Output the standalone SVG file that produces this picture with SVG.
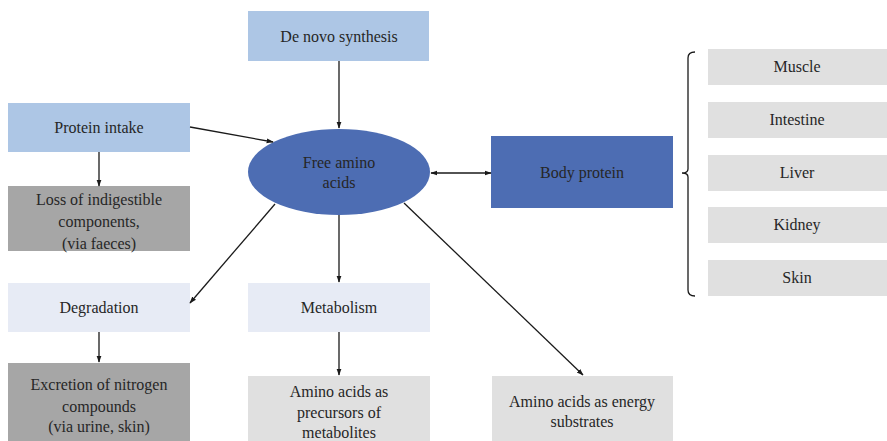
<svg xmlns="http://www.w3.org/2000/svg" width="887" height="441" viewBox="0 0 887 441">
  <style>
    text { font-family: 'Liberation Serif', 'DejaVu Serif', 'Times New Roman', Times, serif; font-size: 16px; fill: #262626; text-anchor: middle; }
    .lb { fill: #adc6e5; }
    .db { fill: #4d6db3; }
    .pale { fill: #e7ebf5; }
    .dg { fill: #a6a6a6; }
    .lg { fill: #e0e0e0; }
    .conn line, .conn path { stroke: #1a1a1a; stroke-width: 1.3; fill: none; }
  </style>
  <defs>
    <marker id="ah" viewBox="0 0 10 10" refX="9" refY="5" markerWidth="7" markerHeight="7" orient="auto-start-reverse" markerUnits="userSpaceOnUse">
      <path d="M0,1.5 L10,5 L0,8.5 z" fill="#1a1a1a"/>
    </marker>
  </defs>
  <rect width="887" height="441" fill="#ffffff"/>

  <g font-family="Liberation Serif, DejaVu Serif, serif">
  <g id="de-novo">
    <rect class="lb" x="248" y="11" width="181" height="50"/>
    <text x="339" y="42">De novo synthesis</text>
  </g>
  <g id="protein-intake">
    <rect class="lb" x="8" y="103" width="182" height="49"/>
    <text x="99" y="133">Protein intake</text>
  </g>
  <g id="loss">
    <rect class="dg" x="8" y="186" width="182" height="65"/>
    <text x="99" y="205">Loss of indigestible</text>
    <text x="99" y="227">components,</text>
    <text x="99" y="249">(via faeces)</text>
  </g>
  <g id="free-amino-acids">
    <ellipse class="db" cx="339" cy="172" rx="91" ry="43"/>
    <text x="339" y="168">Free amino</text>
    <text x="339" y="188">acids</text>
  </g>
  <g id="body-protein">
    <rect class="db" x="491" y="136" width="182" height="72"/>
    <text x="582" y="178">Body protein</text>
  </g>
  <g id="degradation">
    <rect class="pale" x="8" y="283" width="182" height="49"/>
    <text x="99" y="313">Degradation</text>
  </g>
  <g id="metabolism">
    <rect class="pale" x="248" y="283" width="182" height="49"/>
    <text x="339" y="313">Metabolism</text>
  </g>
  <g id="excretion">
    <rect class="dg" x="8" y="363" width="182" height="78"/>
    <text x="99" y="390">Excretion of nitrogen</text>
    <text x="99" y="412">compounds</text>
    <text x="99" y="432">(via urine, skin)</text>
  </g>
  <g id="precursors">
    <rect class="lg" x="248" y="376" width="182" height="65"/>
    <text x="339" y="397">Amino acids as</text>
    <text x="339" y="418">precursors of</text>
    <text x="339" y="438">metabolites</text>
  </g>
  <g id="energy">
    <rect class="lg" x="492" y="376" width="181" height="65"/>
    <text x="582" y="407">Amino acids as energy</text>
    <text x="582" y="427">substrates</text>
  </g>
  <g id="muscle">
    <rect class="lg" x="708" y="49" width="179" height="36"/>
    <text x="797" y="72">Muscle</text>
  </g>
  <g id="intestine">
    <rect class="lg" x="708" y="102" width="179" height="36"/>
    <text x="797" y="125">Intestine</text>
  </g>
  <g id="liver">
    <rect class="lg" x="708" y="155" width="179" height="36"/>
    <text x="797" y="178">Liver</text>
  </g>
  <g id="kidney">
    <rect class="lg" x="708" y="207" width="179" height="36"/>
    <text x="797" y="230">Kidney</text>
  </g>
  <g id="skin">
    <rect class="lg" x="708" y="260" width="179" height="36"/>
    <text x="797" y="283">Skin</text>
  </g>
  </g>

  <g class="conn" id="connectors">
    <line x1="339" y1="61" x2="339" y2="128" marker-end="url(#ah)"/>
    <line x1="190" y1="127" x2="273" y2="142" marker-end="url(#ah)"/>
    <line x1="99" y1="152" x2="99" y2="186" marker-end="url(#ah)"/>
    <line x1="431" y1="173" x2="491" y2="173" marker-start="url(#ah)" marker-end="url(#ah)"/>
    <line x1="275" y1="204" x2="190" y2="303" marker-end="url(#ah)"/>
    <line x1="339" y1="215" x2="339" y2="282" marker-end="url(#ah)"/>
    <line x1="404" y1="203" x2="583" y2="375" marker-end="url(#ah)"/>
    <line x1="99" y1="332" x2="99" y2="362" marker-end="url(#ah)"/>
    <line x1="339" y1="332" x2="339" y2="375" marker-end="url(#ah)"/>
    <path d="M695,52 Q688,52 688,58 L688,169 Q688,173 682,173 Q688,173 688,177 L688,290 Q688,296 695,296"/>
  </g>
</svg>
